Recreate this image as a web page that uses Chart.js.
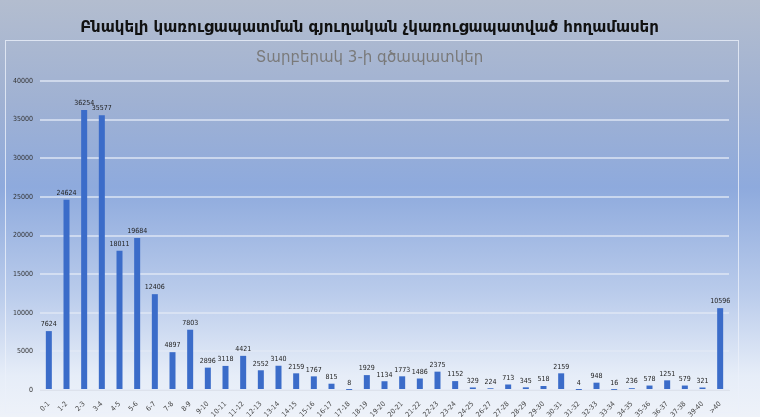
<!DOCTYPE html>
<html>
<head>
<meta charset="utf-8">
<script src="https://cdn.jsdelivr.net/npm/chart.js@4/dist/chart.umd.min.js"></script>
<style>
  html, body { margin: 0; padding: 0; }
  body {
    width: 760px; height: 417px; overflow: hidden;
    background: linear-gradient(to bottom, #b3bdcf 0%, #9fb1d3 25%, #8eaadd 45%, #b9cbeb 70%, #e6edf8 90%, #eef2f9 100%);
  }
  canvas { display: block; }
</style>
</head>
<body>
<canvas id="chart" width="760" height="417"></canvas>
<script>
// Land plot counts by area interval
const categories = [
  '0-1', '1-2', '2-3', '3-4', '4-5', '5-6', '6-7', '7-8', '8-9', '9-10',
  '10-11', '11-12', '12-13', '13-14', '14-15', '15-16', '16-17', '17-18', '18-19', '19-20',
  '20-21', '21-22', '22-23', '23-24', '24-25', '26-27', '27-28', '28-29', '29-30', '30-31',
  '31-32', '32-33', '33-34', '34-35', '35-36', '36-37', '37-38', '39-40', '>40'
];
const plotCounts = [
  7624, 24624, 36254, 35577, 18011, 19684, 12406, 4897, 7803, 2896,
  3118, 4421, 2552, 3140, 2159, 1767, 815, 8, 1929, 1134,
  1773, 1486, 2375, 1152, 329, 224, 713, 345, 518, 2159,
  4, 948, 16, 236, 578, 1251, 579, 321, 10596
];
const yTicks = [0, 5000, 10000, 15000, 20000, 25000, 30000, 35000, 40000];

const mainTitle = 'Բնակելի կառուցապատման գյուղական չկառուցապատված հողամասեր';
const subTitle = 'Տարբերակ 3-ի գծապատկեր';

const FONT = '"DejaVu Sans", sans-serif';
const SMALL_FONT = '"DejaVu Sans Condensed", "DejaVu Sans", sans-serif';

// Inner frame like the Excel plot box
const framePlugin = {
  id: 'frame',
  beforeDraw(chart) {
    const ctx = chart.ctx;
    ctx.save();
    ctx.strokeStyle = 'rgba(235,240,250,0.8)';
    ctx.lineWidth = 1;
    ctx.strokeRect(5.5, 40.5, 733, 372);
    ctx.restore();
  }
};

// Value labels above bars
const valueLabels = {
  id: 'valueLabels',
  afterDatasetsDraw(chart) {
    const ctx = chart.ctx;
    const meta = chart.getDatasetMeta(0);
    ctx.save();
    ctx.font = '7px ' + SMALL_FONT;
    ctx.fillStyle = '#222';
    ctx.textAlign = 'center';
    ctx.textBaseline = 'bottom';
    meta.data.forEach((bar, i) => {
      ctx.fillText(String(plotCounts[i]), bar.x, bar.y - 3);
    });
    ctx.restore();
  }
};

new Chart(document.getElementById('chart'), {
  type: 'bar',
  data: {
    labels: categories,
    datasets: [{
      data: plotCounts,
      backgroundColor: '#3b6cc9',
      borderWidth: 0,
      barPercentage: 0.34,
      categoryPercentage: 1
    }]
  },
  options: {
    responsive: false,
    animation: false,
    layout: { padding: { left: 10, right: 31, top: 0, bottom: 0 } },
    plugins: {
      legend: { display: false },
      tooltip: { enabled: false },
      title: {
        display: true,
        text: mainTitle,
        color: '#111',
        font: { family: FONT, size: 15, weight: 'bold' },
        padding: { top: 19, bottom: 12 }
      },
      subtitle: {
        display: true,
        text: subTitle,
        color: '#7a7a7a',
        font: { family: FONT, size: 15 },
        padding: { top: 0, bottom: 14 }
      }
    },
    scales: {
      x: {
        grid: { display: false },
        border: { display: true, color: 'rgba(220,225,235,0.9)' },
        afterFit(scale) { scale.height = 27; },
        ticks: {
          color: '#444',
          font: { family: SMALL_FONT, size: 7 },
          maxRotation: 45,
          minRotation: 45,
          autoSkip: false,
          padding: 2
        }
      },
      y: {
        min: 0,
        max: 40000,
        afterBuildTicks(scale) {
          scale.ticks = yTicks.map(v => ({ value: v }));
        },
        afterFit(scale) { scale.width = 30; },
        grid: { color: 'rgba(225,232,245,0.7)', lineWidth: 2, drawTicks: false },
        border: { display: false },
        ticks: {
          color: '#333',
          font: { family: SMALL_FONT, size: 7 },
          padding: 7,
          callback: v => String(v)
        }
      }
    }
  },
  plugins: [framePlugin, valueLabels]
});
</script>
</body>
</html>
